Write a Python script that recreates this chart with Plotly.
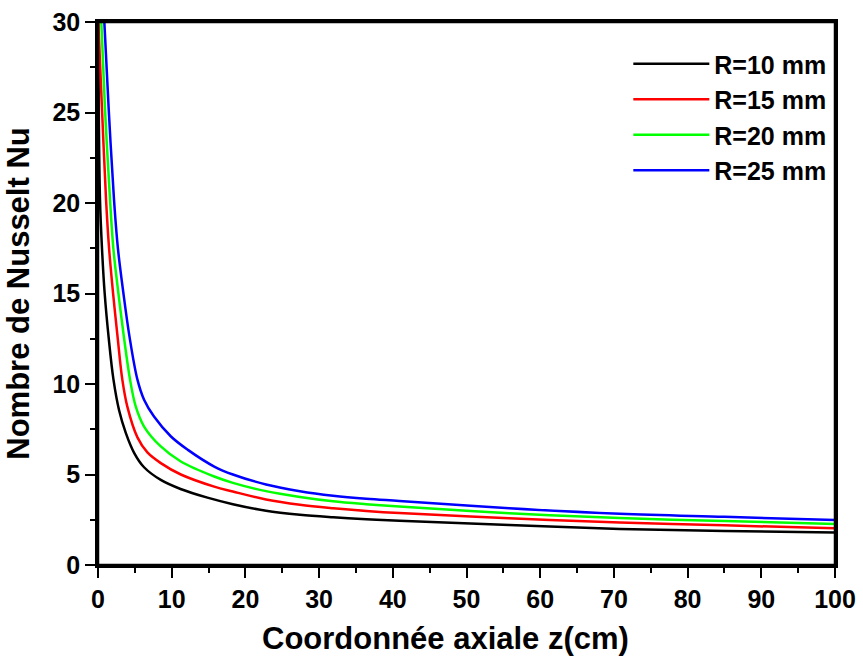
import plotly.graph_objects as go

# Axial coordinate z (cm) and Nusselt number Nu for each radius
z_r10 = [0.02, 0.1, 0.27, 0.54, 0.9, 1.45, 2.1, 2.86, 3.77, 4.9, 6.25, 8.52, 11.2, 14.85, 18.3, 22.8, 27.4, 31.9, 36.4, 40.9, 55.8, 70.8, 85, 100]
nu_r10 = [30, 25.3, 20.2, 17.5, 15.04, 12.55, 10.24, 8.55, 7.3, 6.2, 5.4, 4.7, 4.2, 3.72, 3.36, 3.0, 2.78, 2.64, 2.53, 2.45, 2.21, 1.99, 1.88, 1.79]

z_r15 = [0.04, 0.54, 1.09, 1.5, 2.04, 2.67, 3.3, 3.98, 5.35, 6.7, 8.52, 11.24, 15.77, 18.3, 22.8, 27.4, 31.9, 36.4, 40.9, 55.8, 70.8, 85, 100]
nu_r15 = [30, 25.2, 20.2, 17.5, 15.04, 12.55, 10.24, 8.75, 7.05, 6.22, 5.63, 5.0, 4.33, 4.06, 3.62, 3.33, 3.14, 2.99, 2.87, 2.58, 2.35, 2.19, 2.03]

z_r20 = [0.45, 0.95, 1.63, 2.08, 2.76, 3.53, 4.35, 5.12, 6.25, 8.52, 11.24, 15.77, 18.3, 22.8, 27.4, 31.9, 36.4, 40.9, 55.8, 70.8, 85, 100]
nu_r20 = [30, 25.2, 20.2, 17.5, 15.04, 12.55, 10.24, 8.76, 7.65, 6.55, 5.72, 4.89, 4.54, 4.08, 3.76, 3.52, 3.36, 3.23, 2.86, 2.59, 2.43, 2.27]

z_r25 = [0.86, 1.45, 2.17, 2.7, 3.44, 4.3, 5.35, 6.25, 7.6, 9.9, 12.2, 15.77, 18.3, 22.8, 27.4, 31.9, 36.4, 40.9, 55.8, 70.8, 85, 100]
nu_r25 = [30, 25.2, 20.2, 17.5, 15.04, 12.55, 10.24, 9.13, 8.2, 7.1, 6.36, 5.44, 5.0, 4.45, 4.08, 3.83, 3.66, 3.54, 3.14, 2.83, 2.66, 2.49]

series_names = ["R=10 mm", "R=15 mm", "R=20 mm", "R=25 mm"]
series_colors = ["#000000", "#ff0000", "#00ff00", "#0000ff"]
series_z = [z_r10, z_r15, z_r20, z_r25]
series_nu = [nu_r10, nu_r15, nu_r20, nu_r25]

x_ticks = [0, 10, 20, 30, 40, 50, 60, 70, 80, 90, 100]
y_ticks = [0, 5, 10, 15, 20, 25, 30]

x_title = "Coordonnée axiale z(cm)"
y_title = "Nombre de Nusselt Nu"

FONT = "Liberation Sans, Arial, sans-serif"

fig = go.Figure()
for name, color, zs, nus in zip(series_names, series_colors, series_z, series_nu):
    fig.add_trace(go.Scatter(
        x=zs, y=nus, mode="lines", name=name,
        line=dict(color=color, width=2.5, shape="spline", smoothing=1.0),
    ))

axis_common = dict(
    showline=True, linecolor="black", linewidth=2.5, mirror=True,
    ticks="outside", ticklen=10, tickwidth=2, tickcolor="black",
    showgrid=False, zeroline=False, automargin=False,
    ticklabeloverflow="allow",
    tickfont=dict(family=FONT, size=25, color="black", weight="bold"),
    minor=dict(ticks="outside", ticklen=5, tickwidth=2, tickcolor="black", showgrid=False),
)

fig.update_xaxes(
    range=[0, 100], tickvals=x_ticks, ticktext=[str(v) for v in x_ticks],
    minor_dtick=5,
    **axis_common,
)
fig.update_yaxes(
    range=[0, 30], tickvals=y_ticks, ticktext=[str(v) for v in y_ticks],
    minor_dtick=2.5,
    title=dict(text=y_title, font=dict(family=FONT, size=31, color="black", weight="bold"), standoff=14),
    **axis_common,
)

fig.add_annotation(
    text=x_title, xref="paper", yref="paper", x=0.471, y=-0.099,
    xanchor="center", yanchor="top", showarrow=False,
    font=dict(family=FONT, size=31, color="black", weight="bold"),
)

# plot frame (top edge reinforced)
fig.add_shape(
    type="rect", xref="paper", yref="paper", x0=0, x1=1, y0=0, y1=1,
    line=dict(color="black", width=2.5), fillcolor="rgba(0,0,0,0)", layer="above",
)

fig.update_layout(
    width=863, height=660,
    margin=dict(l=98, r=28, t=22, b=95),
    paper_bgcolor="white", plot_bgcolor="white",
    showlegend=True,
    legend=dict(
        x=0.995, y=0.965, xanchor="right", yanchor="top",
        bgcolor="rgba(0,0,0,0)", borderwidth=0,
        font=dict(family=FONT, size=25, color="black", weight="bold"),
        itemwidth=76, tracegroupgap=0,
    ),
)

fig.write_html("out.html", config={"displayModeBar": False},
               post_script="document.body.style.margin='0';")
